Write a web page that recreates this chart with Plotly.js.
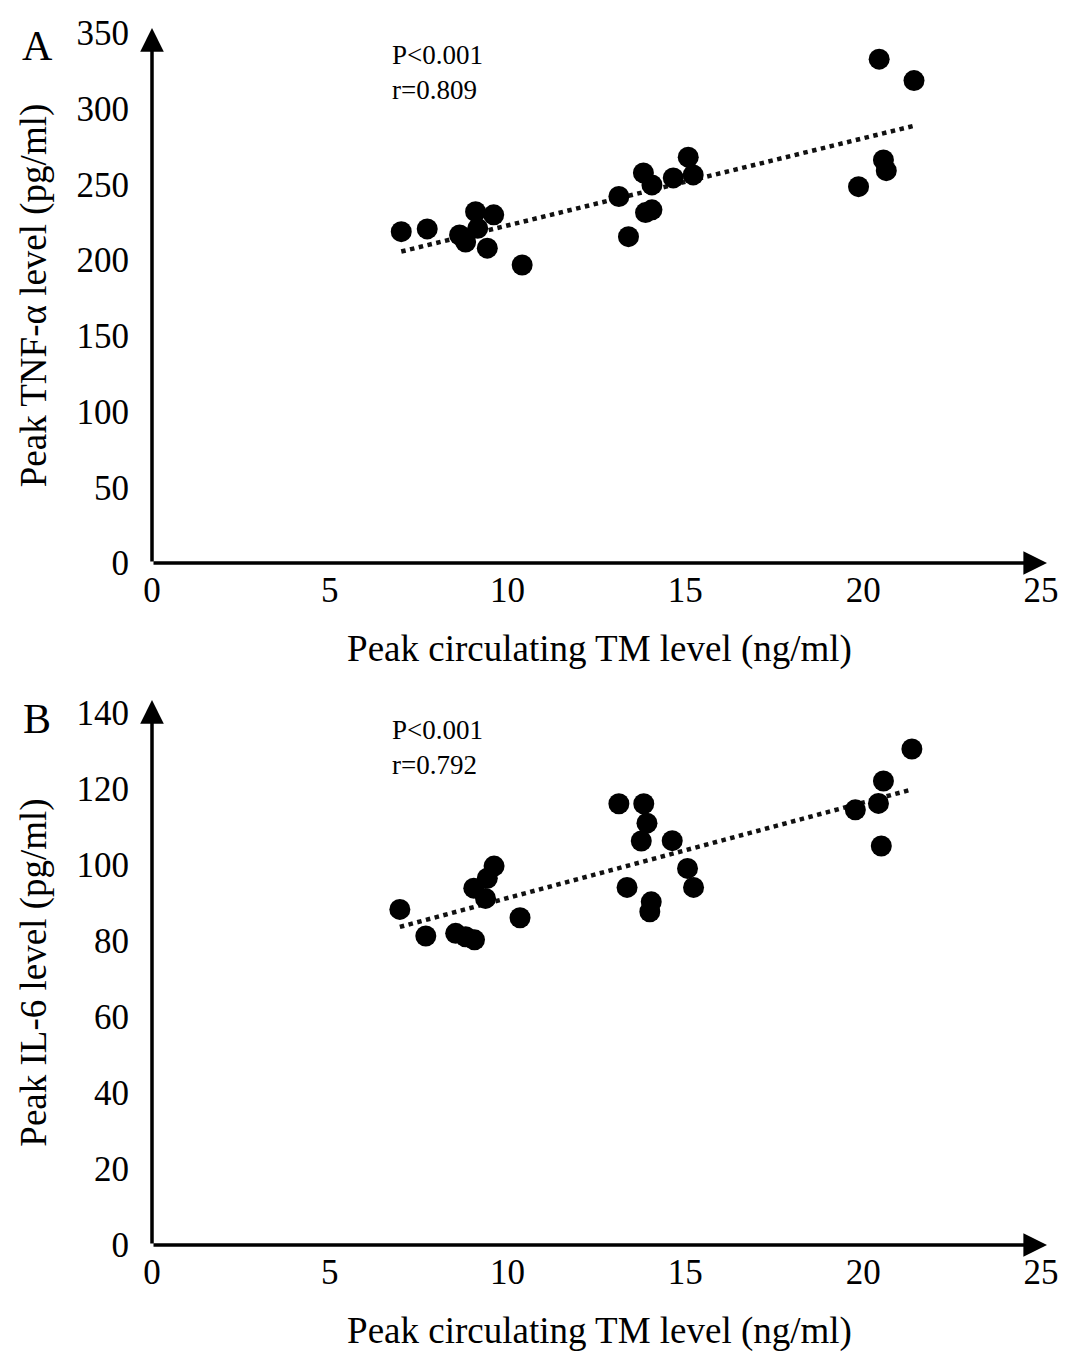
<!DOCTYPE html>
<html>
<head>
<meta charset="utf-8">
<script src="https://cdn.plot.ly/plotly-3.0.1.min.js"></script>
<style>
  html, body { margin: 0; padding: 0; background: #fff; }
  #chart { width: 1078px; height: 1372px; }
</style>
</head>
<body>
<div id="chart"></div>
<script>
// Panel A: peak TM vs peak TNF-alpha
const tmA = [7.01, 7.74, 8.65, 8.82, 9.10, 9.61, 9.16, 9.43, 10.41, 13.13, 13.40, 13.82,
  14.06, 13.88, 14.06, 14.66, 15.08, 15.22, 19.87, 20.45, 20.57, 20.65, 21.43];
const tnfA = [218.8, 220.6, 216.6, 212, 232, 229.9, 221, 207.9, 196.8, 242, 215.5, 257.6,
  249.7, 231.4, 233.2, 254.3, 268, 256.3, 248.5, 332.7, 266.2, 259.1, 318.6];

// Panel B: peak TM vs peak IL-6
const tmB = [6.97, 7.70, 8.54, 8.82, 9.07, 9.62, 9.43, 9.05, 9.38, 10.35, 13.13, 13.83, 13.92,
  13.76, 14.63, 13.36, 14.04, 14.00, 15.06, 15.23, 19.78, 20.43, 20.57, 20.51, 21.37];
const il6B = [88.3, 81.3, 82, 81.1, 80.3, 99.7, 96.5, 93.9, 91.2, 86.1, 116.1, 116.1, 111,
  106.3, 106.4, 94.1, 90.3, 87.7, 99.1, 94.1, 114.5, 116.2, 122.1, 105, 130.5];

const xTicks = [0, 5, 10, 15, 20, 25];
const yTicksA = [0, 50, 100, 150, 200, 250, 300, 350];
const yTicksB = [0, 20, 40, 60, 80, 100, 120, 140];

const SERIF = "Liberation Serif, Times New Roman, serif";

// least-squares fit, drawn from min x to max x
function fitLine(xs, ys) {
  const n = xs.length;
  const mx = xs.reduce((a, b) => a + b, 0) / n;
  const my = ys.reduce((a, b) => a + b, 0) / n;
  let sxy = 0, sxx = 0;
  for (let i = 0; i < n; i++) {
    sxy += (xs[i] - mx) * (ys[i] - my);
    sxx += (xs[i] - mx) ** 2;
  }
  const b = sxy / sxx;
  const a = my - b * mx;
  const x0 = Math.min(...xs), x1 = Math.max(...xs);
  return { x: [x0, x1], y: [a + b * x0, a + b * x1] };
}

function panelTraces(xs, ys, xa, ya) {
  const fit = fitLine(xs, ys);
  return [
    {
      x: fit.x, y: fit.y, xaxis: xa, yaxis: ya,
      mode: "lines",
      line: { color: "#111", width: 4.5, dash: "4.5px,4.5px" },
      hoverinfo: "skip",
    },
    {
      x: xs, y: ys, xaxis: xa, yaxis: ya,
      mode: "markers",
      marker: { color: "#000", size: 21 },
      cliponaxis: false,
    },
  ];
}

function axisArrows(xr, yr, yMax, xMax) {
  const common = {
    xref: xr, yref: yr, axref: xr, ayref: yr,
    showarrow: true, arrowhead: 2, arrowsize: 1.35, arrowwidth: 3.5,
    arrowcolor: "#000", text: "",
  };
  return [
    { ...common, x: xMax, y: 0, ax: 0, ay: 0 },
    { ...common, x: 0, y: yMax, ax: 0, ay: 0 },
  ];
}

function xAxisDef(domainAnchor) {
  return {
    range: [0, 25.17],
    tickvals: xTicks,
    showgrid: false, zeroline: false, showline: false,
    ticks: "", ticklabelstandoff: 3,
    tickfont: { family: SERIF, size: 35, color: "#000" },
    anchor: domainAnchor,
    title: {
      text: "Peak circulating TM level (ng/ml)",
      font: { family: SERIF, size: 37, color: "#000" },
      standoff: 26,
    },
  };
}

function yAxisDef(range, ticks, domain, title, anchor) {
  return {
    range: range,
    domain: domain,
    tickvals: ticks,
    showgrid: false, zeroline: false, showline: false,
    ticks: "", ticklabelstandoff: 22,
    tickfont: { family: SERIF, size: 35, color: "#000" },
    anchor: anchor,
    title: {
      text: title,
      font: { family: SERIF, size: 37, color: "#000" },
      standoff: 18,
    },
  };
}

const yMaxA = 353.3, yMaxB = 143.4, xMax = 25.17;

const traces = [
  ...panelTraces(tmA, tnfA, "x", "y"),
  ...panelTraces(tmB, il6B, "x2", "y2"),
];

function statText(xr, yr, y, p, r) {
  return {
    xref: xr, yref: yr, x: 6.7, y: y, xanchor: "left", yanchor: "top",
    showarrow: false, align: "left",
    text: `${p}<br>${r}`,
    font: { family: SERIF, size: 27, color: "#000" },
  };
}

const layout = {
  width: 1078,
  height: 1372,
  margin: { l: 152, r: 31, t: 28, b: 127 },
  paper_bgcolor: "#fff",
  plot_bgcolor: "#fff",
  showlegend: false,
  font: { family: SERIF, color: "#000" },
  xaxis: xAxisDef("y"),
  yaxis: yAxisDef([0, yMaxA], yTicksA, [0.5604, 1], "Peak TNF-\u03b1 level (pg/ml)", "x"),
  xaxis2: xAxisDef("y2"),
  yaxis2: yAxisDef([0, yMaxB], yTicksB, [0, 0.4478], "Peak IL-6 level (pg/ml)", "x2"),
  annotations: [
    ...axisArrows("x", "y", yMaxA, xMax),
    ...axisArrows("x2", "y2", yMaxB, xMax),
    statText("x", "y", 347, "P&lt;0.001", "r=0.809"),
    statText("x2", "y2", 140, "P&lt;0.001", "r=0.792"),
    {
      xref: "paper", yref: "paper", x: -0.128, y: 0.985, xanchor: "center", yanchor: "middle",
      showarrow: false, text: "A", font: { family: SERIF, size: 42, color: "#000" },
    },
    {
      xref: "paper", yref: "paper", x: -0.128, y: 0.432, xanchor: "center", yanchor: "middle",
      showarrow: false, text: "B", font: { family: SERIF, size: 42, color: "#000" },
    },
  ],
};

Plotly.newPlot("chart", traces, layout, { staticPlot: true });
</script>
</body>
</html>
